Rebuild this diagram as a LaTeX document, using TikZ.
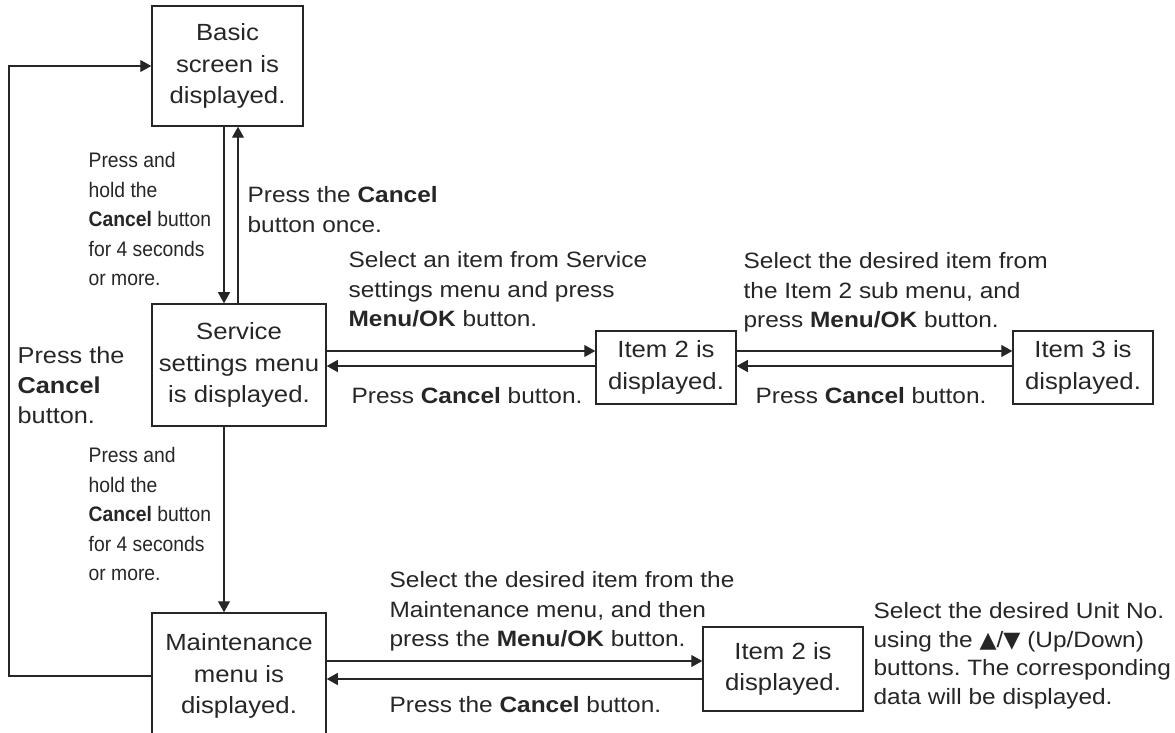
\documentclass[tikz,border=0pt]{standalone}
\usepackage{fontspec}
\setmainfont{Liberation Sans}[FakeStretch=1.1]
\newfontfamily\narrowfont[FakeStretch=0.92]{Liberation Sans}
\newfontfamily\symfont{DejaVu Sans}
\usepackage{xcolor}
\usepackage{tikz}
\usetikzlibrary{arrows.meta,calc,positioning}
\definecolor{ink}{gray}{0.15}
\frenchspacing

\begin{document}
\begin{tikzpicture}[x=0.5pt,y=-0.5pt, line width=0.65pt, color=ink,
  every node/.style={inner sep=0pt},
  box/.style={draw,line width=0.75pt,align=center,font=\fontsize{11.7}{15.75}\selectfont},
  lbl/.style={anchor=north west,align=left,font=\fontsize{11.1}{14.75}\selectfont},
  narrow/.style={anchor=north west,align=left,font=\narrowfont\fontsize{10.5}{14.75}\selectfont},
  arr/.style={-{Triangle[length=5.5pt,width=6pt]}}]
\useasboundingbox (0,0) rectangle (1175,733);
\node[box,minimum width=75.5pt,minimum height=60pt] (basic) at (227.5,66) {Basic\\screen is\\displayed.};
\node[box,minimum width=87pt,minimum height=61pt] (service) at (239,365) {Service\\settings menu\\is displayed.};
\node[box,minimum width=87pt,minimum height=63pt] (maint) at (239,676) {Maintenance\\menu is\\displayed.};
\node[box,minimum width=70pt,minimum height=36.5pt] (item2) at (666,367.5) {Item 2 is\\displayed.};
\node[box,minimum width=70pt,minimum height=36.5pt] (item3) at (1083,367.5) {Item 3 is\\displayed.};
\node[box,minimum width=80pt,minimum height=42pt] (mitem2) at (783,669) {Item 2 is\\displayed.};
% where the lines run
\coordinate (downx) at (224,0);
\coordinate (upx) at (238,0);
\coordinate (loopx) at (9,0);
\coordinate (fwdy) at (0,351);
\coordinate (bwdy) at (0,366);
\coordinate (mfwdy) at (0,661);
\coordinate (mbwdy) at (0,679);
\draw[arr] (basic.south -| downx) -- (service.north -| downx);
\draw[arr] (service.north -| upx) -- (basic.south -| upx);
\draw[arr] (service.east |- fwdy) -- (item2.west |- fwdy);
\draw[arr] (item2.west |- bwdy) -- (service.east |- bwdy);
\draw[arr] (item2.east |- fwdy) -- (item3.west |- fwdy);
\draw[arr] (item3.west |- bwdy) -- (item2.east |- bwdy);
\draw[arr] (service.south -| downx) -- (maint.north -| downx);
\draw[arr] (maint.east |- mfwdy) -- (mitem2.west |- mfwdy);
\draw[arr] (mitem2.west |- mbwdy) -- (maint.east |- mbwdy);
\draw[arr] (maint.west) -| (loopx |- basic.west) -- (basic.west);
% labels
\node[narrow] (holdup) at (88,152) {Press and\\hold the\\\textbf{Cancel} button\\for 4 seconds\\or more.};
\node[lbl] (oncelbl) at (247,186) {Press the \textbf{Cancel}\\button once.};
\node[narrow] (holddown) at (88,447) {Press and\\hold the\\\textbf{Cancel} button\\for 4 seconds\\or more.};
\node[lbl,font=\fontsize{11.5}{15}\selectfont] (backlbl) at (17,346) {Press the\\\textbf{Cancel}\\button.};
\node[lbl] (sel2lbl) at (348,251) {Select an item from Service\\settings menu and press\\\textbf{Menu/OK} button.};
\node[lbl] (back2lbl) at (351,387) {Press \textbf{Cancel} button.};
\node[lbl] (sel3lbl) at (743,252) {Select the desired item from\\the Item 2 sub menu, and\\press \textbf{Menu/OK} button.};
\node[lbl] (back3lbl) at (755,387) {Press \textbf{Cancel} button.};
\node[lbl] (selmlbl) at (389,571) {Select the desired item from the\\Maintenance menu, and then\\press the \textbf{Menu/OK} button.};
\node[lbl] (backmlbl) at (389,696) {Press the \textbf{Cancel} button.};
\node[lbl,font=\fontsize{11.1}{14.25}\selectfont] (unitlbl) at (873,602) {Select the desired Unit No.\\using the {\symfont ▲}/{\symfont ▼} (Up/Down)\\buttons. The corresponding\\data will be displayed.};
\end{tikzpicture}
\end{document}
